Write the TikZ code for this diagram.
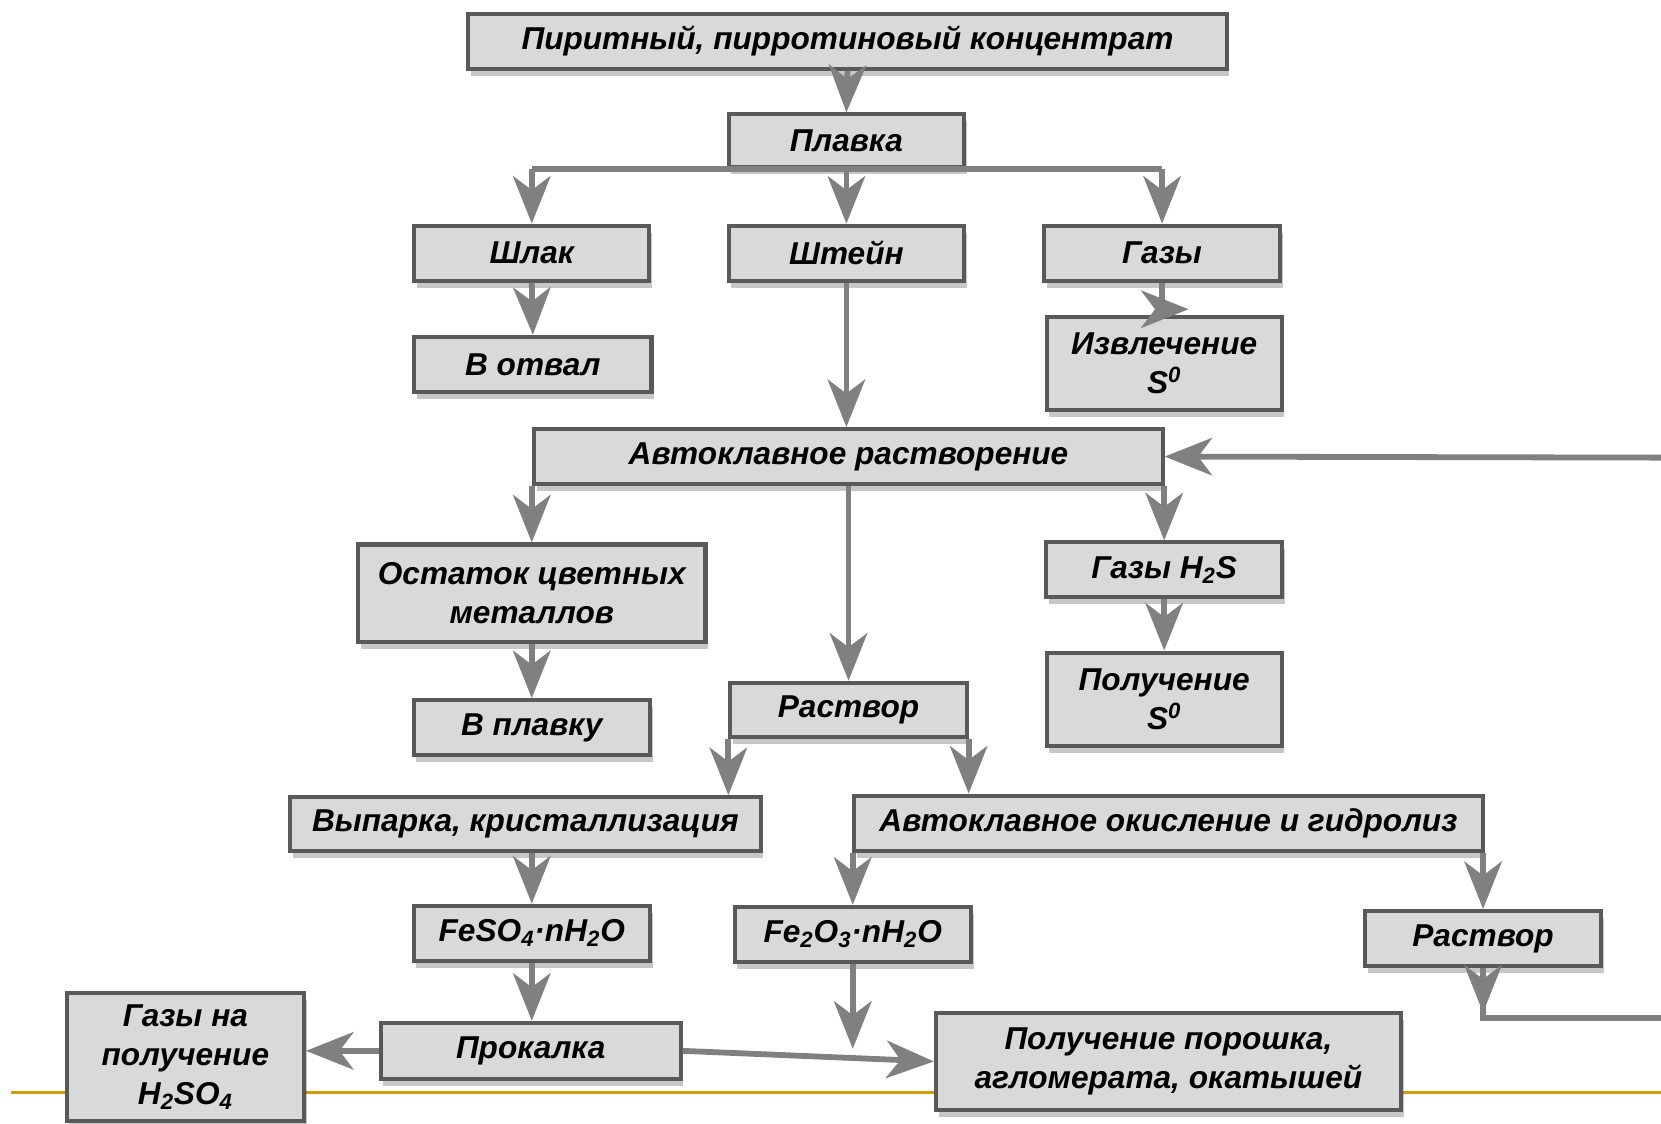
\documentclass[tikz,border=0pt]{standalone}
\usepackage{fontspec}
\setmainfont{Liberation Sans}
\usepackage{xcolor}
\usetikzlibrary{arrows.meta,shadows}

\definecolor{boxfill}{RGB}{217,217,217}
\definecolor{boxline}{RGB}{89,89,89}
\definecolor{arrgray}{RGB}{128,128,128}
\definecolor{gold}{RGB}{209,155,10}

\tikzset{
  box/.style={draw=boxline, fill=boxfill, line width=2.3pt, align=center, inner sep=0pt,
    font=\bfseries\itshape\fontsize{18}{22}\selectfont,
    drop shadow={shadow xshift=1.5pt, shadow yshift=-4pt, opacity=0.22, fill=black}},
  wh/.style 2 args={minimum width=#1*0.0212cm, minimum height=#2*0.0212cm},
  ln/.style={draw=arrgray, line width=3.3pt},
  arr/.style={ln, -{Stealth[length=0.95cm, width=0.75cm, inset=0.28cm]}}
}

\begin{document}
\begin{tikzpicture}[x=0.0212cm, y=-0.0212cm]
  \useasboundingbox (0,0) rectangle (1568,1061);
  % bottom rule
  \draw[gold, line width=1.8pt] (10,1031) -- (1568,1031);
  % boxes
  \node[box, wh={716}{52}] (konc) at (800,39) {Пиритный, пирротиновый концентрат};
  \node[box, wh={222}{50}] (plavka) at (799,133) {Плавка};
  \node[box, wh={222}{52}] (shlak) at (502,239) {Шлак};
  \node[box, wh={222}{52}] (shtein) at (799,239) {Штейн};
  \node[box, wh={223}{52}] (gazy) at (1097,239) {Газы};
  \node[box, wh={224}{52}] (otval) at (503,344) {В отвал};
  \node[box, wh={222}{88}] (izvl) at (1099,343) {Извлечение\\S\textsuperscript{0}};
  \node[box, wh={593}{52}] (avtr) at (801,431) {Автоклавное растворение};
  \node[box, wh={328}{92}] (ostatok) at (502,560) {Остаток цветных\\металлов};
  \node[box, wh={223}{52}] (gazh2s) at (1099,538) {Газы H\textsubscript{2}S};
  \node[box, wh={222}{88}] (polS) at (1099,660) {Получение\\S\textsuperscript{0}};
  \node[box, wh={223}{52}] (vplavku) at (502,687) {В плавку};
  \node[box, wh={223}{51}] (rastv1) at (801,670) {Раствор};
  \node[box, wh={444}{51}] (vyparka) at (496,778) {Выпарка, кристаллизация};
  \node[box, wh={593}{52}] (okisl) at (1103,777) {Автоклавное окисление и гидролиз};
  \node[box, wh={223}{52}] (feso4) at (502,881) {FeSO\textsubscript{4}·nH\textsubscript{2}O};
  \node[box, wh={223}{52}] (fe2o3) at (805,882) {Fe\textsubscript{2}O\textsubscript{3}·nH\textsubscript{2}O};
  \node[box, wh={223}{52}] (rastv2) at (1400,886) {Раствор};
  \node[box, wh={224}{121}] (gazyso) at (175,998) {Газы на\\получение\\H\textsubscript{2}SO\textsubscript{4}};
  \node[box, wh={283}{53}] (prokalka) at (501,992) {Прокалка};
  \node[box, wh={439}{92}] (poluch) at (1103,1002) {Получение порошка,\\агломерата, окатышей};
  % free ends
  \coordinate (edgeA) at (1568,432);
  \coordinate (edgeB) at (1568,961);
  \coordinate (fe2end) at (805,990);
  % arrows
  \draw[arr] (konc.south) -- (plavka.north);
  \draw[ln] (shlak.north |- plavka.south) -- (gazy.north |- plavka.south);
  \foreach \n in {shlak,shtein,gazy}
    \draw[arr] (\n.north |- plavka.south) -- (\n.north);
  \draw[arr] (shlak.south) -- (otval.north);
  \draw[arr] (shtein.south) -- (shtein.south |- avtr.north);
  \draw[arr] (gazy.south) -- ++(0,25) -- ++(25,0);
  \draw[arr] (ostatok.north |- avtr.south) -- (ostatok.north);
  \draw[arr] (avtr.south) -- (rastv1.north);
  \draw[arr] (gazh2s.north |- avtr.south) -- (gazh2s.north);
  \draw[arr] (edgeA) -- (avtr.east);
  \draw[arr] (ostatok.south) -- (vplavku.north);
  \draw[arr] (gazh2s.south) -- (polS.north);
  \draw[arr] (rastv1.south west) -- (rastv1.south west |- vyparka.north);
  \draw[arr] (rastv1.south east) -- (rastv1.south east |- okisl.north);
  \draw[arr] (feso4.north |- vyparka.south) -- (feso4.north);
  \draw[arr] (fe2o3.north |- okisl.south) -- (fe2o3.north);
  \draw[arr] (rastv2.north |- okisl.south) -- (rastv2.north);
  \draw[arr] (feso4.south) -- (feso4.south |- prokalka.north);
  \draw[arr] (fe2o3.south) -- (fe2end);
  \draw[arr] (prokalka.east) -- (poluch.west);
  \draw[arr] (prokalka.west) -- (prokalka.west -| gazyso.east);
  \draw[ln] (rastv2.south) |- (edgeB);
  \draw[arr] (rastv2.south) -- ++(0,42);
\end{tikzpicture}
\end{document}
